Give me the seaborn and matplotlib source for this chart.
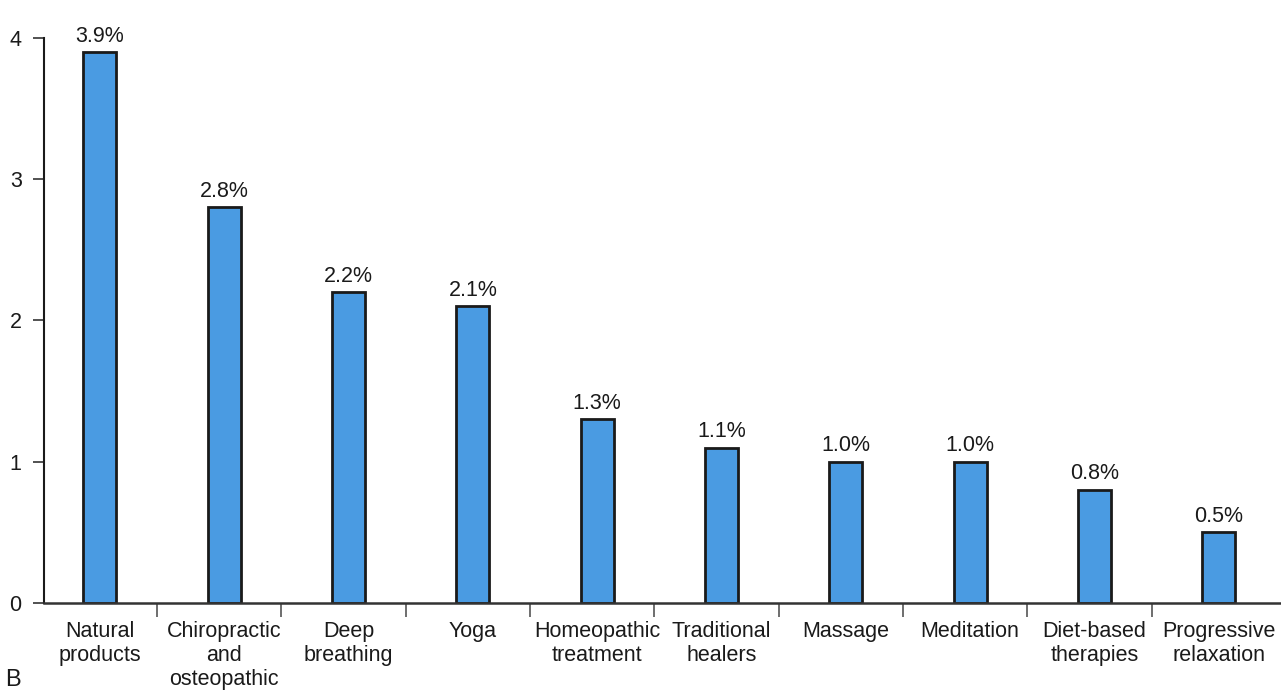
import matplotlib
matplotlib.use("Agg")
import matplotlib.pyplot as plt
import seaborn as sns
import pandas as pd
import numpy as np

categories = ["Natural\nproducts", "Chiropractic\nand\nosteopathic", "Deep\nbreathing",
              "Yoga", "Homeopathic\ntreatment", "Traditional\nhealers", "Massage",
              "Meditation", "Diet-based\ntherapies", "Progressive\nrelaxation"]
values = [3.9, 2.8, 2.2, 2.1, 1.3, 1.1, 1.0, 1.0, 0.8, 0.5]
y_ticks = [0, 1, 2, 3, 4]

sns.set_theme(style="white")
plt.rcParams["font.family"] = ["Liberation Sans", "DejaVu Sans"]

df = pd.DataFrame({"therapy": categories, "pct": values})

fig = plt.figure(figsize=(12.81, 6.92), dpi=100)
ax = fig.add_axes([0.0343, 0.1286, 0.9657, 0.8165])

sns.barplot(data=df, x="therapy", y="pct", ax=ax, color="#4A9BE2",
            saturation=1, width=0.265, edgecolor="#1a1a1a", linewidth=2)

ax.bar_label(ax.containers[0], labels=[f"{v:.1f}%" for v in values],
             padding=4, fontsize=15.5, color="#1a1a1a", clip_on=False)

ax.set_xlim(-0.45, 9.5)
ax.set_ylim(0, 4)
ax.set_yticks(y_ticks)
ax.set_xlabel("")
ax.set_ylabel("")

for side in ["top", "right"]:
    ax.spines[side].set_visible(False)
ax.spines["left"].set_color("#1a1a1a")
ax.spines["left"].set_linewidth(1.5)
ax.spines["bottom"].set_color("#333333")
ax.spines["bottom"].set_linewidth(1.8)

ax.tick_params(axis="y", which="major", direction="out", length=8, width=1.2,
               color="#333333", labelsize=15.5, pad=8, left=True)
ax.tick_params(axis="x", which="major", length=0, labelsize=15.5, pad=13)
# separators between neighbouring categories
ax.set_xticks(np.arange(len(categories) - 1) + 0.46, minor=True)
ax.tick_params(axis="x", which="minor", direction="out", length=10, width=1.2,
               color="#555555", bottom=True)
for lbl in ax.get_xticklabels():
    lbl.set_linespacing(1.2)
    lbl.set_color("#1a1a1a")
for lbl in ax.get_yticklabels():
    lbl.set_color("#1a1a1a")

fig.text(0.004, 0.002, "B", fontsize=17, color="#1a1a1a", ha="left", va="bottom")

fig.savefig("out.png", dpi=100)
